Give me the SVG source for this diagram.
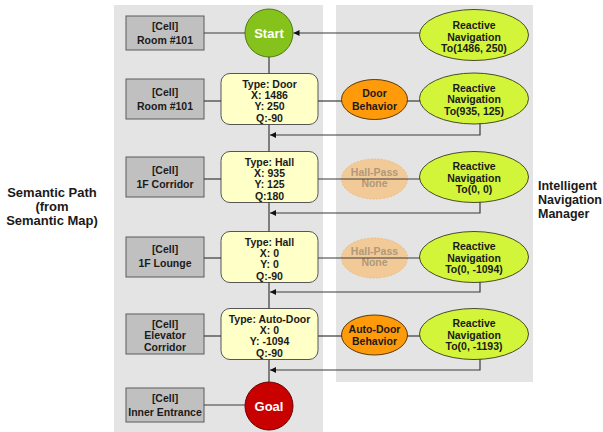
<svg xmlns="http://www.w3.org/2000/svg" width="603" height="432" viewBox="0 0 603 432">
<defs>
<style>
text{font-family:"Liberation Sans",Arial,sans-serif;font-weight:bold;font-size:10.5px;fill:#1a1a1a;text-anchor:middle}
.panel{fill:#e4e4e4}
.cell rect{fill:#c0c0c0;stroke:#5a5a5a;stroke-width:1}
.tbox rect{fill:#ffffc8;stroke:#555;stroke-width:1}
.rn ellipse{fill:#d2f53a;stroke:#4a4a2a;stroke-width:1}
.beh ellipse{fill:#ff9a0a;stroke:#5a3a10;stroke-width:1}
.hp ellipse{fill:#f4c890;stroke:#f0b878;stroke-width:1;stroke-dasharray:2 1.5}
.hp text{fill:#b0987a}
.side{font-size:13px}
.side2{font-size:12.5px;text-anchor:start}
.big{font-size:13px;fill:#fff}
.conn path{fill:none;stroke:#3a3a3a;stroke-width:1.2}
</style>
<marker id="ah" markerUnits="userSpaceOnUse" markerWidth="7" markerHeight="7" refX="6" refY="3" orient="auto">
<path d="M0,0 L6,3 L0,6 z" fill="#111"/>
</marker>
</defs>

<rect class="panel" x="114" y="5" width="209" height="427"/>
<rect class="panel" x="336" y="5" width="197" height="377"/>

<g id="label-semantic">
<text class="side" x="52" y="197">Semantic Path</text>
<text class="side" x="52" y="211">(from</text>
<text class="side" x="52" y="225">Semantic Map)</text>
</g>
<g id="label-inm">
<text class="side2" x="538" y="190">Intelligent</text>
<text class="side2" x="538" y="204">Navigation</text>
<text class="side2" x="538" y="218">Manager</text>
</g>

<!-- cells -->
<g id="cell1" class="cell"><rect x="126" y="16" width="78" height="34"/><text x="165" y="30">[Cell]</text><text x="165" y="43.5">Room #101</text></g>
<g id="cell2" class="cell"><rect x="126" y="79" width="78" height="40"/><text x="165" y="95.5">[Cell]</text><text x="165" y="109.5">Room #101</text></g>
<g id="cell3" class="cell"><rect x="126" y="157" width="78" height="40"/><text x="165" y="173.5">[Cell]</text><text x="165" y="187.5">1F Corridor</text></g>
<g id="cell4" class="cell"><rect x="126" y="237" width="78" height="40"/><text x="165" y="253">[Cell]</text><text x="165" y="267">1F Lounge</text></g>
<g id="cell5" class="cell"><rect x="126" y="314" width="78" height="40"/><text x="165" y="327.5">[Cell]</text><text x="165" y="339">Elevator</text><text x="165" y="350.5">Corridor</text></g>
<g id="cell6" class="cell"><rect x="126" y="388" width="78" height="34"/><text x="165" y="402">[Cell]</text><text x="165" y="415.5">Inner Entrance</text></g>

<!-- start / goal -->
<g id="start"><circle cx="269" cy="33" r="24" fill="#86c21c" stroke="#4f7a10" stroke-width="1"/><text class="big" x="269" y="38">Start</text></g>
<g id="goal"><circle cx="269" cy="406" r="24" fill="#c80000" stroke="#6a0000" stroke-width="1"/><text class="big" x="269" y="411">Goal</text></g>

<!-- type boxes -->
<g id="type-door" class="tbox"><rect x="221" y="73.5" width="97" height="51" rx="9"/><text x="269.5" y="87.5">Type: Door</text><text x="269.5" y="99">X: 1486</text><text x="269.5" y="110">Y: 250</text><text x="269.5" y="121.5">Q:-90</text></g>
<g id="type-hall1" class="tbox"><rect x="221" y="151.5" width="97" height="51" rx="9"/><text x="269.5" y="165.5">Type: Hall</text><text x="269.5" y="177">X: 935</text><text x="269.5" y="188">Y: 125</text><text x="269.5" y="199.5">Q:180</text></g>
<g id="type-hall2" class="tbox"><rect x="221" y="231.5" width="97" height="51" rx="9"/><text x="269.5" y="245.5">Type: Hall</text><text x="269.5" y="257">X: 0</text><text x="269.5" y="268">Y: 0</text><text x="269.5" y="279.5">Q:-90</text></g>
<g id="type-autodoor" class="tbox"><rect x="221" y="308.5" width="97" height="51" rx="9"/><text x="269.5" y="322.5">Type: Auto-Door</text><text x="269.5" y="334">X: 0</text><text x="269.5" y="345">Y: -1094</text><text x="269.5" y="356.5">Q:-90</text></g>

<!-- behaviors -->
<g id="door-behavior" class="beh"><ellipse cx="374.5" cy="99.5" rx="33" ry="20"/><text x="374.5" y="97">Door</text><text x="374.5" y="110">Behavior</text></g>
<g id="hallpass1" class="hp"><ellipse cx="374.5" cy="179" rx="33" ry="20" opacity="0.9"/><text x="374.5" y="176">Hall-Pass</text><text x="374.5" y="187">None</text></g>
<g id="hallpass2" class="hp"><ellipse cx="374.5" cy="258" rx="33" ry="20" opacity="0.9"/><text x="374.5" y="255">Hall-Pass</text><text x="374.5" y="266">None</text></g>
<g id="autodoor-behavior" class="beh"><ellipse cx="374.5" cy="335" rx="33" ry="20"/><text x="374.5" y="333">Auto-Door</text><text x="374.5" y="345">Behavior</text></g>

<!-- reactive navigation -->
<g id="rn1" class="rn"><ellipse cx="474" cy="35" rx="54.5" ry="25.5"/><text x="474" y="29">Reactive</text><text x="474" y="40.5">Navigation</text><text x="474" y="52">To(1486, 250)</text></g>
<g id="rn2" class="rn"><ellipse cx="474" cy="98.5" rx="54.5" ry="25.5"/><text x="474" y="91.5">Reactive</text><text x="474" y="103">Navigation</text><text x="474" y="114.5">To(935, 125)</text></g>
<g id="rn3" class="rn"><ellipse cx="474" cy="177" rx="54.5" ry="25.5"/><text x="474" y="170">Reactive</text><text x="474" y="181.5">Navigation</text><text x="474" y="193">To(0, 0)</text></g>
<g id="rn4" class="rn"><ellipse cx="474" cy="257" rx="54.5" ry="25.5"/><text x="474" y="250">Reactive</text><text x="474" y="261.5">Navigation</text><text x="474" y="273">To(0, -1094)</text></g>
<g id="rn5" class="rn"><ellipse cx="474" cy="334" rx="54.5" ry="25.5"/><text x="474" y="327">Reactive</text><text x="474" y="338.5">Navigation</text><text x="474" y="350">To(0, -1193)</text></g>

<g id="connectors" class="conn">
<path d="M204,33 H245"/>
<path d="M269,57 V73.5"/>
<path d="M269,124.5 V151.5"/>
<path d="M269,202.5 V231.5"/>
<path d="M269,282.5 V308.5"/>
<path d="M269,359.5 V382"/>
<path d="M419.5,33 H293.5" marker-end="url(#ah)"/>
<path d="M204,101 H221"/>
<path d="M318,101 H342"/>
<path d="M407,101 H420"/>
<path d="M480,123.5 V135 H270" marker-end="url(#ah)"/>
<path d="M204,179 H221"/>
<path d="M318,179 H420"/>
<path d="M480,202 V213 H270" marker-end="url(#ah)"/>
<path d="M204,258 H221"/>
<path d="M318,258 H420"/>
<path d="M480,282 V292 H270" marker-end="url(#ah)"/>
<path d="M204,336 H221"/>
<path d="M318,336 H342"/>
<path d="M407,336 H420"/>
<path d="M480,359 V370 H270" marker-end="url(#ah)"/>
<path d="M204,405 H245"/>
</g>
</svg>
